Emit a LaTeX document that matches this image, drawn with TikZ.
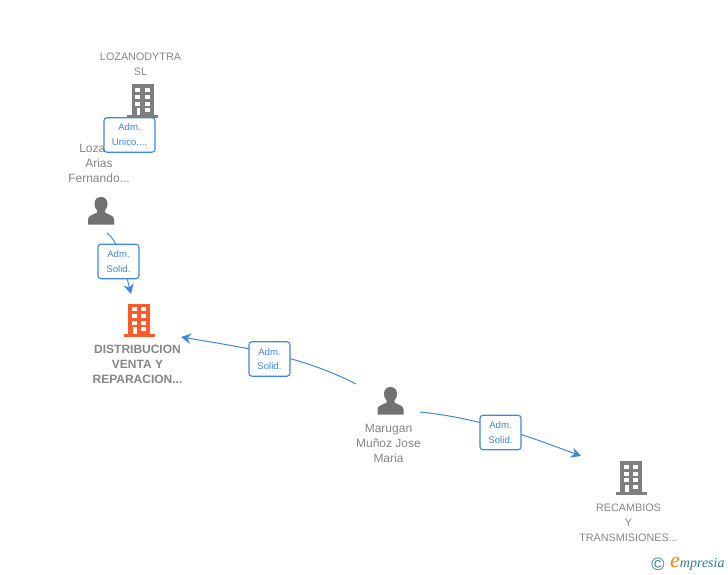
\documentclass[tikz,border=0pt]{standalone}
\usepackage{fontspec}
\setmainfont{Liberation Sans}
\newfontfamily\logofont{Liberation Serif}
\usetikzlibrary{arrows.meta}
\definecolor{gtext}{HTML}{858585}
\definecolor{gicon}{HTML}{7E7E7E}
\definecolor{orng}{HTML}{FF5A2B}
\definecolor{blu}{HTML}{3F86E6}
\definecolor{teal1}{HTML}{2F7F8F}
\tikzset{
  lbl/.style={align=center,text=gtext,font=\fontsize{12}{15}\selectfont,inner sep=0pt},
  lblc/.style={align=center,text=gtext,font=\fontsize{10.8}{15}\selectfont,inner sep=0pt},
  lblb/.style={align=center,text=gtext,font=\bfseries\fontsize{12}{15}\selectfont,inner sep=0pt},
  tag/.style={draw=blu,line width=1.1pt,rounded corners=3pt,fill=white,text=blu,align=center,
    font=\fontsize{9.6}{14.5}\selectfont,inner sep=0pt,minimum height=34.5pt},
  link/.style={draw=blu,line width=1pt,-{Stealth[length=10pt,width=10.5pt,inset=3.5pt]}},
  pics/bld/.style={code={
    \fill[#1] (-11,-16.5) rectangle (11,14);
    \fill[#1] (-15.5,14) rectangle (15.5,17);
    \foreach \yy in {-12.7,-6,0.7}{
      \fill[white] (-7.5,\yy) rectangle (-2.5,\yy+4);
      \fill[white] (2,\yy) rectangle (7,\yy+4);}
    \fill[white] (-6,7.4) rectangle (-2.5,14);
    \fill[white] (2,7.4) rectangle (7,11.4);
  }},
  pics/psn/.style={code={
    \fill[gicon!90!black] (-13,13.5) -- (-13,8) .. controls (-13,4.5) and (-7,3.5) .. (-4,1.5)
      -- (-4,-0.5) .. controls (-6,-3) and (-6.5,-5) .. (-6.5,-7)
      .. controls (-6.5,-11.5) and (-4,-14) .. (0,-14)
      .. controls (4,-14) and (6.5,-11.5) .. (6.5,-7)
      .. controls (6.5,-5) and (6,-3) .. (4,-0.5) -- (4,1.5)
      .. controls (7,3.5) and (13,4.5) .. (13,8) -- (13,13.5) -- cycle;
  }}
}
\begin{document}
\begin{tikzpicture}[x=1pt,y=-1pt]
\useasboundingbox (0,0) rectangle (728,575);
% icons
\pic at (142.5,101) {bld=gicon};
\pic at (139,320) {bld=orng};
\pic at (631,477.5) {bld=gicon};
\pic at (101,211) {psn};
\pic at (390.5,401) {psn};
\coordinate (p1) at (107,233);
\coordinate (p2) at (356,384);
\coordinate (p3) at (420,412);
\coordinate (orgA) at (131,294);
\coordinate (orgB) at (181,337);
\coordinate (rec) at (581,456);
% texts
\node[lblc] (tLoz) at (140.5,64) {LOZANODYTRA\\SL};
\node[lbl] (tPer) at (99,163.5) {Lozano\\Arias\\Fernando...};
\node[lblb] (tDis) at (137.5,364) {DISTRIBUCION\\VENTA Y\\REPARACION...};
\node[lbl] (tMar) at (388.5,443.5) {Marugan\\Muñoz Jose\\Maria};
\node[lblc] (tRec) at (628.5,522.5) {RECAMBIOS\\Y\\TRANSMISIONES...};
% connectors
\draw[link] (p1) .. controls (120,243) and (125,270) .. (orgA);
\draw[link] (p2) .. controls (300,355) and (240,347) .. (orgB);
\draw[link] (p3) .. controls (480,418) and (530,437) .. (rec);
% tags
\node[tag,minimum width=51pt] (t1) at (129.5,135) {Adm.\\Unico,...};
\node[tag,minimum width=41pt] (t2) at (118.5,261.5) {Adm.\\Solid.};
\node[tag,minimum width=41pt] (t3) at (269.5,359) {Adm.\\Solid.};
\node[tag,minimum width=41pt] (t4) at (500.5,432.5) {Adm.\\Solid.};
% logo
\node[inner sep=0pt,text=teal1,font=\fontsize{18}{18}\selectfont] (c) at (658,564) {©};
\node[inner sep=0pt,anchor=west,text=teal1,font=\logofont\itshape\fontsize{14}{14}\selectfont] (e) at (670,564)
  {{\color{orange}\fontsize{22}{14}\selectfont e}mpresia};
\end{tikzpicture}
\end{document}
